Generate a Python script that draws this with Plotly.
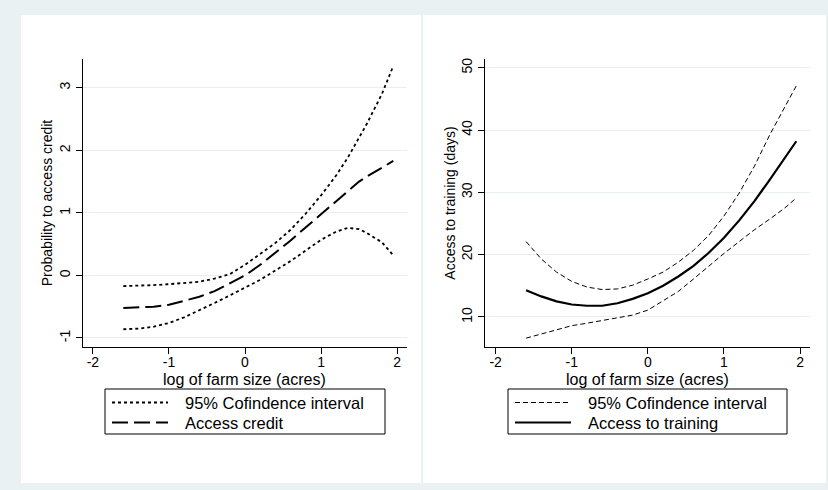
import plotly.graph_objects as go

# ---- data ----
x_credit = [-1.6, -1.4, -1.2, -1.0, -0.8, -0.6, -0.4, -0.2, 0.0, 0.2, 0.4, 0.6, 0.8, 1.0, 1.2, 1.35, 1.5, 1.6, 1.8, 1.95]
credit_upper = [-0.17, -0.165, -0.155, -0.14, -0.12, -0.10, -0.05, 0.02, 0.17, 0.35, 0.52, 0.73, 0.99, 1.28, 1.60, 1.88, 2.20, 2.42, 2.90, 3.35]
credit_fit = [-0.52, -0.515, -0.50, -0.47, -0.41, -0.34, -0.25, -0.13, 0.00, 0.17, 0.36, 0.56, 0.77, 0.98, 1.20, 1.35, 1.50, 1.58, 1.73, 1.83]
credit_lower = [-0.86, -0.85, -0.82, -0.76, -0.67, -0.56, -0.44, -0.32, -0.20, -0.07, 0.08, 0.23, 0.40, 0.57, 0.70, 0.76, 0.74, 0.68, 0.53, 0.32]

x_train = [-1.6, -1.4, -1.2, -1.0, -0.8, -0.6, -0.4, -0.2, 0.0, 0.2, 0.4, 0.6, 0.8, 1.0, 1.2, 1.4, 1.6, 1.8, 1.95]
train_upper = [22.1, 19.3, 17.2, 15.7, 14.8, 14.4, 14.5, 15.1, 16.1, 17.2, 18.8, 20.7, 23.1, 26.2, 29.9, 34.2, 39.2, 43.8, 47.1]
train_fit = [14.3, 13.3, 12.5, 12.0, 11.8, 11.8, 12.2, 12.9, 13.8, 15.0, 16.5, 18.2, 20.3, 22.7, 25.5, 28.6, 32.0, 35.5, 38.2]
train_lower = [6.6, 7.3, 7.9, 8.6, 9.0, 9.4, 9.8, 10.3, 11.1, 12.6, 14.1, 16.1, 18.2, 20.2, 22.1, 24.0, 25.7, 27.5, 29.1]

x_ticks = [-2, -1, 0, 1, 2]
x_ticktext = ["-2", "-1", "0", "1", "2"]
credit_yticks = [-1, 0, 1, 2, 3]
credit_yticktext = ["-1", "0", "1", "2", "3"]
train_yticks = [10, 20, 30, 40, 50]
train_yticktext = ["10", "20", "30", "40", "50"]

ci_label = "95% Cofindence interval"
credit_label = "Access credit"
train_label = "Access to training"
x_title = "log of farm size (acres)"
credit_ytitle = "Probability to access credit"
train_ytitle = "Access to training (days)"

W, H = 828, 490
BG = "#eaf1f3"
GRID = "#e6eff1"
FONT = "Liberation Sans, Arial, sans-serif"

CREDIT_CI = dict(color="black", width=1.8, dash="dot")
CREDIT_FIT = dict(color="black", width=2, dash="16px,6px")
TRAIN_CI = dict(color="black", width=1, dash="5px,3px")
TRAIN_FIT = dict(color="black", width=2.2)

fig = go.Figure()

# left panel
fig.add_trace(go.Scatter(x=x_credit, y=credit_upper, mode="lines", name=ci_label,
                         line=CREDIT_CI, showlegend=False, xaxis="x", yaxis="y"))
fig.add_trace(go.Scatter(x=x_credit, y=credit_lower, mode="lines", name=ci_label,
                         line=CREDIT_CI, showlegend=False, xaxis="x", yaxis="y"))
fig.add_trace(go.Scatter(x=x_credit, y=credit_fit, mode="lines", name=credit_label,
                         line=CREDIT_FIT, showlegend=False, xaxis="x", yaxis="y"))

# right panel
fig.add_trace(go.Scatter(x=x_train, y=train_upper, mode="lines", name=ci_label,
                         line=TRAIN_CI, showlegend=False, xaxis="x2", yaxis="y2"))
fig.add_trace(go.Scatter(x=x_train, y=train_lower, mode="lines", name=ci_label,
                         line=TRAIN_CI, showlegend=False, xaxis="x2", yaxis="y2"))
fig.add_trace(go.Scatter(x=x_train, y=train_fit, mode="lines", name=train_label,
                         line=TRAIN_FIT, showlegend=False, xaxis="x2", yaxis="y2"))


def px_x(p):
    return p / W


def px_y(p):
    return (H - p) / H


xaxis_common = dict(
    showline=True, linecolor="black", linewidth=1.2, ticks="outside", ticklen=6,
    tickcolor="black", tickwidth=1, showgrid=False, zeroline=False,
    tickvals=x_ticks, ticktext=x_ticktext, ticklabelstandoff=-4,
    tickfont=dict(family=FONT, size=14, color="black"),
    fixedrange=True,
)
yaxis_common = dict(
    showline=True, linecolor="black", linewidth=1.2, ticks="outside", ticklen=6,
    tickcolor="black", tickwidth=1, showgrid=True, gridcolor=GRID, gridwidth=1,
    zeroline=False, tickangle=-90, tickfont=dict(family=FONT, size=14, color="black"),
    fixedrange=True,
)

shapes = [
    dict(type="rect", xref="paper", yref="paper", x0=px_x(21), x1=px_x(421),
         y0=px_y(483), y1=px_y(15), fillcolor="white", line=dict(width=0), layer="below"),
    dict(type="rect", xref="paper", yref="paper", x0=px_x(423), x1=px_x(826),
         y0=px_y(483), y1=px_y(15), fillcolor="white", line=dict(width=0), layer="below"),
]
annotations = []

# x-axis titles, centred under each plot
for cx in (245, 647.5):
    annotations.append(dict(text=x_title, xref="paper", yref="paper",
                            x=px_x(cx), y=px_y(379), xanchor="center", yanchor="middle",
                            showarrow=False, font=dict(family=FONT, size=16, color="black")))


def add_legend(box_x0, box_x1, entries):
    # legend frame
    shapes.append(dict(type="rect", xref="paper", yref="paper",
                       x0=px_x(box_x0), x1=px_x(box_x1), y0=px_y(434), y1=px_y(389),
                       fillcolor="white", line=dict(color="black", width=1), layer="above"))
    for row_y, label, style in entries:
        shapes.append(dict(type="line", xref="paper", yref="paper",
                           x0=px_x(box_x0 + 7), x1=px_x(box_x0 + 63),
                           y0=px_y(row_y), y1=px_y(row_y),
                           line=dict(color=style["color"], width=style["width"],
                                     dash=style.get("dash", "solid")),
                           layer="above"))
        annotations.append(dict(text=label, xref="paper", yref="paper",
                                x=px_x(box_x0 + 78), y=px_y(row_y), xanchor="left", yanchor="middle",
                                showarrow=False, font=dict(family=FONT, size=16.5, color="black")))


add_legend(105, 385, [(402.5, ci_label, CREDIT_CI), (422.5, credit_label, CREDIT_FIT)])
add_legend(508, 787, [(402.5, ci_label, TRAIN_CI), (422.5, train_label, TRAIN_FIT)])

fig.update_layout(
    width=W, height=H,
    margin=dict(l=0, r=0, t=0, b=0),
    paper_bgcolor=BG,
    plot_bgcolor="white",
    font=dict(family=FONT, color="black"),
    showlegend=False,
    xaxis=dict(xaxis_common, domain=[px_x(83), px_x(407)], range=[-2.13, 2.13], anchor="y"),
    yaxis=dict(yaxis_common, domain=[px_y(347), px_y(59)], range=[-1.144, 3.46], anchor="x",
               tickvals=credit_yticks, ticktext=credit_yticktext,
               title=dict(text=credit_ytitle, font=dict(family=FONT, size=14, color="black"), standoff=1)),
    xaxis2=dict(xaxis_common, domain=[px_x(485), px_x(810)], range=[-2.14, 2.13], anchor="y2"),
    yaxis2=dict(yaxis_common, domain=[px_y(347), px_y(59)], range=[5.18, 51.4], anchor="x2",
                tickvals=train_yticks, ticktext=train_yticktext,
                title=dict(text=train_ytitle, font=dict(family=FONT, size=14, color="black"), standoff=0)),
    shapes=shapes,
    annotations=annotations,
)

fig.write_html("out.html")
